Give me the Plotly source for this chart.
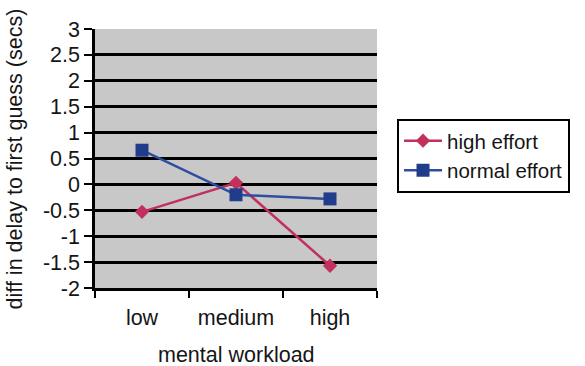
import plotly.graph_objects as go

# Data
workload = ["low", "medium", "high"]
high_effort = [-0.53, 0.03, -1.57]
normal_effort = [0.66, -0.20, -0.28]
y_ticks = [-2, -1.5, -1, -0.5, 0, 0.5, 1, 1.5, 2, 2.5, 3]
y_tick_text = ["-2", "-1.5", "-1", "-0.5", "0", "0.5", "1", "1.5", "2", "2.5", "3"]

FONT = "Liberation Sans, Arial, sans-serif"
TXT = "#151515"
FS = 21.5

fig = go.Figure()
fig.add_trace(go.Scatter(
    x=workload, y=high_effort, name="high effort", mode="lines+markers",
    line=dict(color="#C2305E", width=2.5),
    marker=dict(symbol="diamond", size=11, color="#C2305E"),
))
fig.add_trace(go.Scatter(
    x=workload, y=normal_effort, name="normal effort", mode="lines+markers",
    line=dict(color="#2E4FA0", width=2.5),
    marker=dict(symbol="square", size=13, color="#223C8C"),
))

fig.update_layout(
    width=585, height=366,
    margin=dict(l=95, r=208, t=29, b=78),
    paper_bgcolor="white",
    plot_bgcolor="#C8C8C8",
    font=dict(family=FONT, size=FS, color=TXT),
    showlegend=True,
    legend=dict(
        x=1.071, y=0.653, xanchor="left", yanchor="top",
        bgcolor="white", bordercolor="black", borderwidth=2,
        font=dict(family=FONT, size=20.5, color=TXT),
        itemwidth=38, tracegroupgap=0,
    ),
    xaxis=dict(
        type="category", range=[-0.5, 2.5], tickson="boundaries",
        showline=True, linecolor="black", linewidth=2.5,
        ticks="outside", ticklen=7, tickwidth=2, tickcolor="black",
        showgrid=False, zeroline=False, ticklabelstandoff=8,
        tickfont=dict(family=FONT, size=FS, color=TXT),
        fixedrange=True,
    ),
    yaxis=dict(
        range=[-2, 3], tickvals=y_ticks, ticktext=y_tick_text,
        showline=True, linecolor="black", linewidth=2.5,
        ticks="outside", ticklen=8, tickwidth=2, tickcolor="black",
        showgrid=True, gridcolor="black", gridwidth=2.5,
        zeroline=False,
        tickfont=dict(family=FONT, size=FS, color=TXT),
        fixedrange=True,
    ),
    annotations=[
        dict(text="diff in delay to first guess (secs)", textangle=-90,
             xref="paper", yref="paper", x=-0.284, y=0.5,
             xanchor="center", yanchor="middle", showarrow=False,
             font=dict(family=FONT, size=FS, color=TXT)),
        dict(text="mental workload",
             xref="paper", yref="paper", x=0.5, y=-0.259,
             xanchor="center", yanchor="middle", showarrow=False,
             font=dict(family=FONT, size=FS, color=TXT)),
    ],
)

fig.write_html("out.html")
